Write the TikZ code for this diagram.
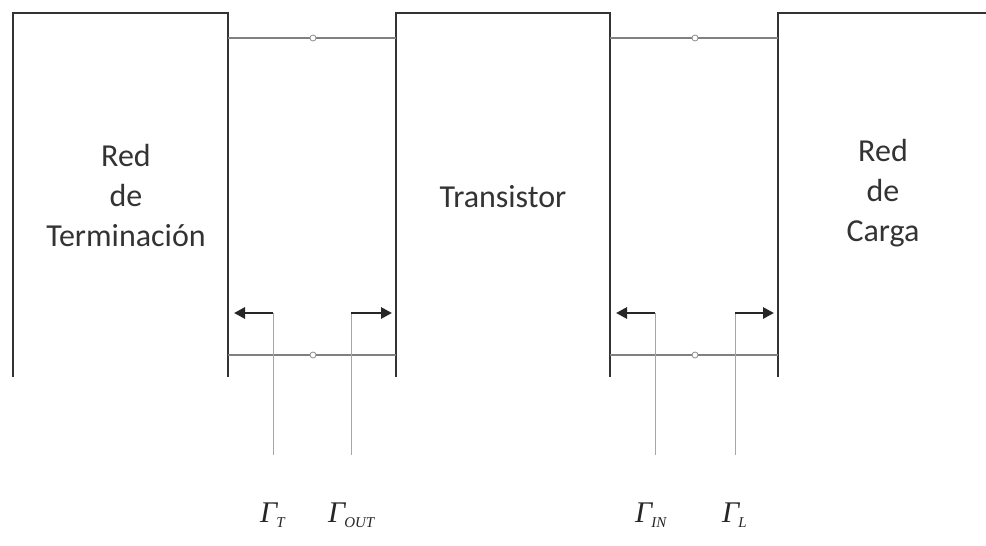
\documentclass[tikz,border=0pt]{standalone}
\usepackage{fontspec}
\setmainfont{Carlito}
\newfontfamily\gfont{Liberation Serif}
\usetikzlibrary{arrows.meta}
\newcommand{\refcoef}[1]{{\gfont\itshape Γ}\kern-1pt\raisebox{-5pt}{\gfont\itshape\fontsize{15}{15}\selectfont #1}}
\begin{document}
\begin{tikzpicture}[x=1pt,y=-1pt,
  boxline/.style={draw=black!80,line width=2.4pt},
  wire/.style={draw=black!50,line width=1.8pt},
  probe/.style={draw=black!35,line width=1pt},
  refarrow/.style={draw=black!85,line width=2.8pt,-{Triangle[length=11pt,width=11pt]}},
  port/.style={circle,draw=black!45,fill=white,line width=0.8pt,inner sep=0pt,minimum size=6pt},
  blocktext/.style={align=center,font=\fontsize{32}{40}\selectfont,text=black!80},
  gamma/.style={font=\fontsize{30}{32}\selectfont,text=black!85,anchor=base west,inner sep=0pt}]
\useasboundingbox (0,0) rectangle (986,546);
% corners
\coordinate (A1) at (13,377); \coordinate (A2) at (13,13); \coordinate (A3) at (228,13); \coordinate (A4) at (228,377);
\coordinate (B1) at (396,377); \coordinate (B2) at (396,13); \coordinate (B3) at (610,13); \coordinate (B4) at (610,377);
\coordinate (C1) at (778,377); \coordinate (C2) at (778,13); \coordinate (C3) at (986,13);
% blocks
\draw[boxline] (A1) -- (A2) -- (A3) -- (A4);
\draw[boxline] (B1) -- (B2) -- (B3) -- (B4);
\draw[boxline] (C1) -- (C2) -- (C3);
\node[blocktext] (red1) at (126,196) {Red\\de\\Terminación};
\node[blocktext] (tr) at (503,197) {Transistor};
\node[blocktext] (red2) at (883,193) {Red\\de\\Carga};
% ports
\node[port] (p1) at (313,38) {};
\node[port] (p2) at (313,355) {};
\node[port] (p3) at (695,38) {};
\node[port] (p4) at (695,355) {};
\coordinate (w1a) at (228,38); \coordinate (w1b) at (396,38);
\coordinate (w2a) at (228,355); \coordinate (w2b) at (396,355);
\coordinate (w3a) at (610,38); \coordinate (w3b) at (778,38);
\coordinate (w4a) at (610,355); \coordinate (w4b) at (778,355);
\draw[wire] (w1a) -- (p1) -- (w1b);
\draw[wire] (w2a) -- (p2) -- (w2b);
\draw[wire] (w3a) -- (p3) -- (w3b);
\draw[wire] (w4a) -- (p4) -- (w4b);
% labels
\node[gamma] (gT) at (260,522) {\refcoef{T}};
\node[gamma] (gOUT) at (328,522) {\refcoef{OUT}};
\node[gamma] (gIN) at (635,522) {\refcoef{IN}};
\node[gamma] (gL) at (722,522) {\refcoef{L}};
% arrow bends
\coordinate (k1) at (273,313); \coordinate (t1) at (234,313);
\coordinate (k2) at (351,313); \coordinate (t2) at (392,313);
\coordinate (k3) at (655,313); \coordinate (t3) at (616,313);
\coordinate (k4) at (735,313); \coordinate (t4) at (774,313);
\coordinate (e1) at (273,455); \coordinate (e2) at (351,455);
\coordinate (e3) at (655,455); \coordinate (e4) at (735,455);
\draw[probe] (e1) -- (k1);
\draw[probe] (e2) -- (k2);
\draw[probe] (e3) -- (k3);
\draw[probe] (e4) -- (k4);
\draw[refarrow] (k1) -- (t1);
\draw[refarrow] (k2) -- (t2);
\draw[refarrow] (k3) -- (t3);
\draw[refarrow] (k4) -- (t4);
\end{tikzpicture}
\end{document}
